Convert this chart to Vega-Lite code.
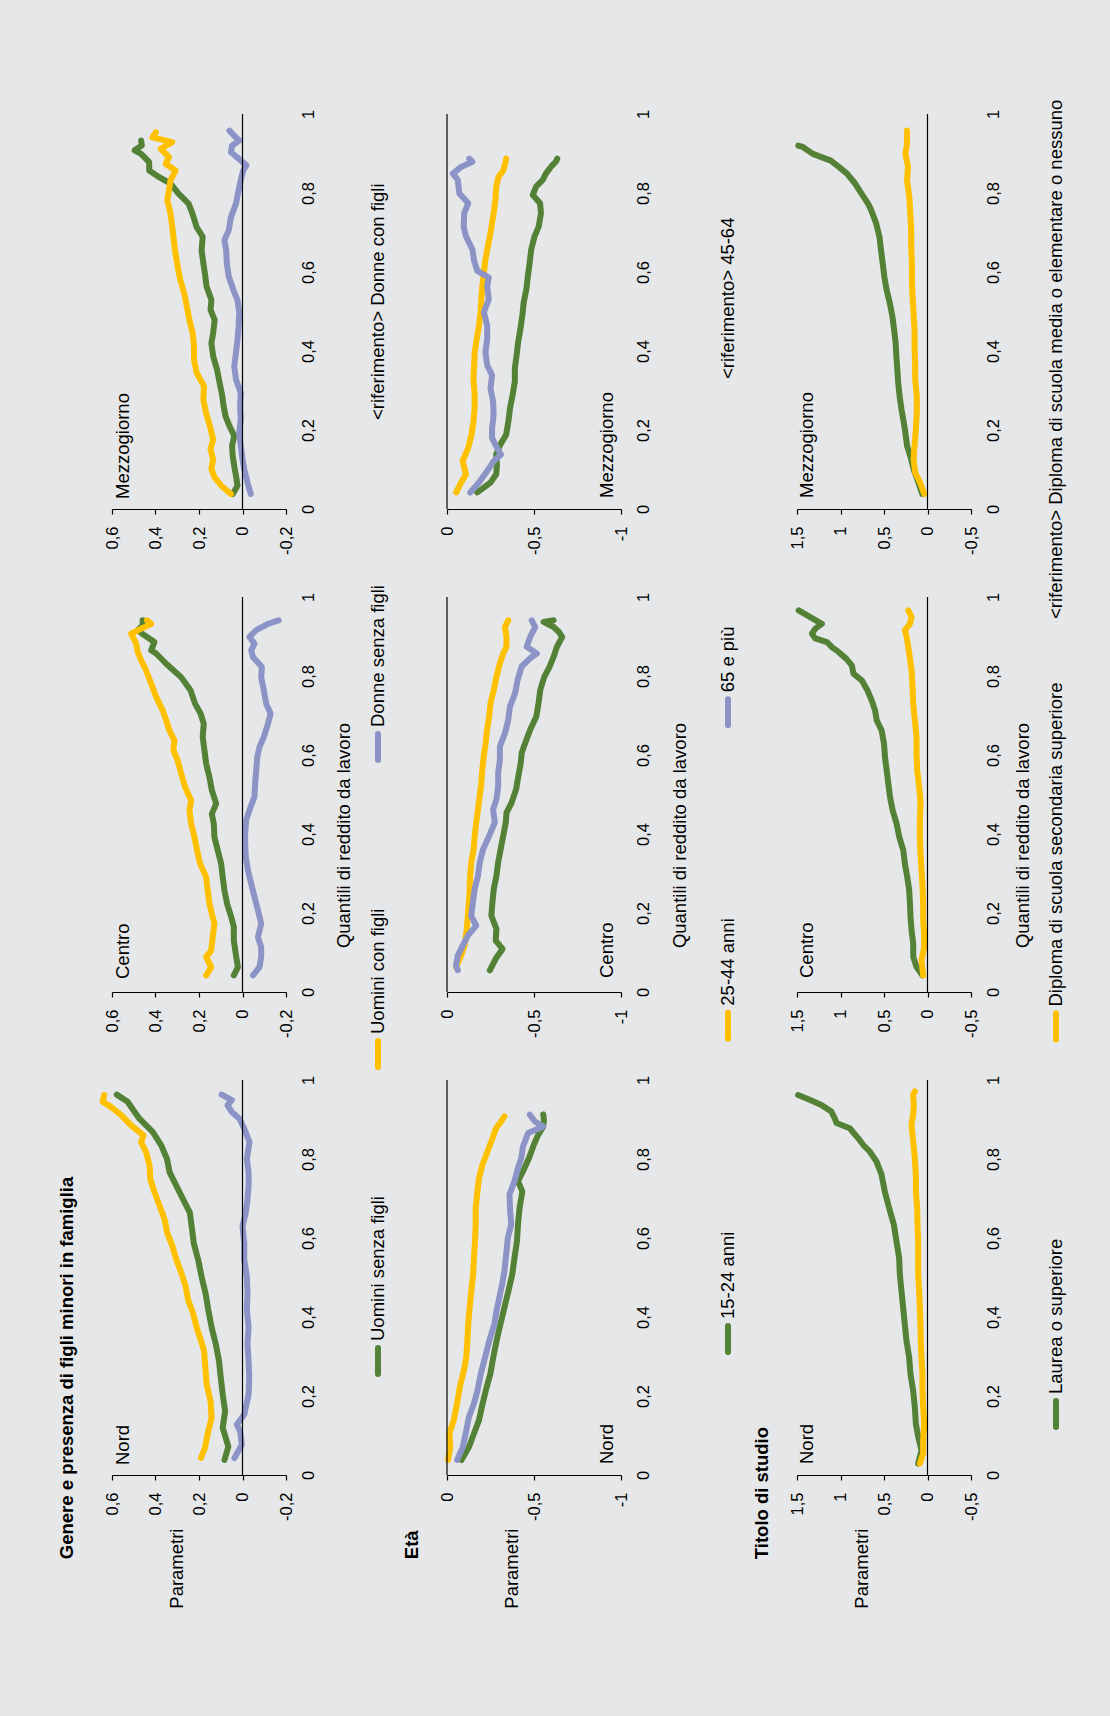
{
"$schema": "https://vega.github.io/schema/vega-lite/v6.json",
"background": "#e6e7e8",
"padding": {"left": 58, "top": 99, "right": 51, "bottom": 156},
"config": {
 "font": "Liberation Sans",
 "view": {"stroke": null},
 "locale": {"number": {"decimal": ",", "thousands": ".", "grouping": [3], "currency": ["", " €"], "minus": "-"}},
 "axis": {"grid": false, "domainColor": "#000000", "tickColor": "#000000", "labelColor": "#000000", "titleColor": "#000000", "labelFont": "Liberation Sans", "titleFont": "Liberation Sans", "labelFontSize": 16.5, "titleFontSize": 18.5, "titleFontWeight": "normal", "labelOverlap": false, "labelFlush": false, "domainWidth": 1.2, "tickWidth": 1.2},
 "title": {"font": "Liberation Sans", "fontSize": 18.5, "fontWeight": "bold", "color": "#000000"},
 "text": {"font": "Liberation Sans", "color": "#000000"}
},
"datasets": {
"g1": [
{"r":"Nord","s":"Uomini senza figli","q":0.038,"p":0.083},{"r":"Nord","s":"Uomini senza figli","q":0.072,"p":0.065},{"r":"Nord","s":"Uomini senza figli","q":0.119,"p":0.091},{"r":"Nord","s":"Uomini senza figli","q":0.162,"p":0.08},{"r":"Nord","s":"Uomini senza figli","q":0.204,"p":0.091},{"r":"Nord","s":"Uomini senza figli","q":0.247,"p":0.1},{"r":"Nord","s":"Uomini senza figli","q":0.289,"p":0.108},{"r":"Nord","s":"Uomini senza figli","q":0.332,"p":0.123},{"r":"Nord","s":"Uomini senza figli","q":0.374,"p":0.142},{"r":"Nord","s":"Uomini senza figli","q":0.417,"p":0.157},{"r":"Nord","s":"Uomini senza figli","q":0.46,"p":0.17},{"r":"Nord","s":"Uomini senza figli","q":0.502,"p":0.188},{"r":"Nord","s":"Uomini senza figli","q":0.545,"p":0.204},{"r":"Nord","s":"Uomini senza figli","q":0.587,"p":0.224},{"r":"Nord","s":"Uomini senza figli","q":0.63,"p":0.234},{"r":"Nord","s":"Uomini senza figli","q":0.664,"p":0.242},{"r":"Nord","s":"Uomini senza figli","q":0.698,"p":0.273},{"r":"Nord","s":"Uomini senza figli","q":0.732,"p":0.304},{"r":"Nord","s":"Uomini senza figli","q":0.766,"p":0.335},{"r":"Nord","s":"Uomini senza figli","q":0.8,"p":0.347},{"r":"Nord","s":"Uomini senza figli","q":0.834,"p":0.373},{"r":"Nord","s":"Uomini senza figli","q":0.868,"p":0.412},{"r":"Nord","s":"Uomini senza figli","q":0.902,"p":0.474},{"r":"Nord","s":"Uomini senza figli","q":0.928,"p":0.507},{"r":"Nord","s":"Uomini senza figli","q":0.945,"p":0.528},{"r":"Nord","s":"Uomini senza figli","q":0.963,"p":0.578},
{"r":"Nord","s":"Uomini con figli","q":0.043,"p":0.191},{"r":"Nord","s":"Uomini con figli","q":0.068,"p":0.173},{"r":"Nord","s":"Uomini con figli","q":0.111,"p":0.157},{"r":"Nord","s":"Uomini con figli","q":0.145,"p":0.142},{"r":"Nord","s":"Uomini con figli","q":0.187,"p":0.147},{"r":"Nord","s":"Uomini con figli","q":0.23,"p":0.165},{"r":"Nord","s":"Uomini con figli","q":0.272,"p":0.171},{"r":"Nord","s":"Uomini con figli","q":0.315,"p":0.177},{"r":"Nord","s":"Uomini con figli","q":0.34,"p":0.191},{"r":"Nord","s":"Uomini con figli","q":0.374,"p":0.211},{"r":"Nord","s":"Uomini con figli","q":0.409,"p":0.227},{"r":"Nord","s":"Uomini con figli","q":0.443,"p":0.25},{"r":"Nord","s":"Uomini con figli","q":0.477,"p":0.261},{"r":"Nord","s":"Uomini con figli","q":0.511,"p":0.281},{"r":"Nord","s":"Uomini con figli","q":0.545,"p":0.304},{"r":"Nord","s":"Uomini con figli","q":0.579,"p":0.322},{"r":"Nord","s":"Uomini con figli","q":0.613,"p":0.346},{"r":"Nord","s":"Uomini con figli","q":0.647,"p":0.358},{"r":"Nord","s":"Uomini con figli","q":0.681,"p":0.381},{"r":"Nord","s":"Uomini con figli","q":0.715,"p":0.404},{"r":"Nord","s":"Uomini con figli","q":0.749,"p":0.424},{"r":"Nord","s":"Uomini con figli","q":0.783,"p":0.427},{"r":"Nord","s":"Uomini con figli","q":0.817,"p":0.443},{"r":"Nord","s":"Uomini con figli","q":0.843,"p":0.466},{"r":"Nord","s":"Uomini con figli","q":0.86,"p":0.455},{"r":"Nord","s":"Uomini con figli","q":0.885,"p":0.512},{"r":"Nord","s":"Uomini con figli","q":0.911,"p":0.558},{"r":"Nord","s":"Uomini con figli","q":0.932,"p":0.605},{"r":"Nord","s":"Uomini con figli","q":0.945,"p":0.643},{"r":"Nord","s":"Uomini con figli","q":0.962,"p":0.636},
{"r":"Nord","s":"Donne senza figli","q":0.043,"p":0.037},{"r":"Nord","s":"Donne senza figli","q":0.077,"p":0.003},{"r":"Nord","s":"Donne senza figli","q":0.111,"p":0.011},{"r":"Nord","s":"Donne senza figli","q":0.128,"p":0.026},{"r":"Nord","s":"Donne senza figli","q":0.153,"p":-0.008},{"r":"Nord","s":"Donne senza figli","q":0.204,"p":-0.028},{"r":"Nord","s":"Donne senza figli","q":0.247,"p":-0.031},{"r":"Nord","s":"Donne senza figli","q":0.289,"p":-0.028},{"r":"Nord","s":"Donne senza figli","q":0.332,"p":-0.023},{"r":"Nord","s":"Donne senza figli","q":0.374,"p":-0.028},{"r":"Nord","s":"Donne senza figli","q":0.417,"p":-0.02},{"r":"Nord","s":"Donne senza figli","q":0.46,"p":-0.023},{"r":"Nord","s":"Donne senza figli","q":0.502,"p":-0.02},{"r":"Nord","s":"Donne senza figli","q":0.545,"p":-0.008},{"r":"Nord","s":"Donne senza figli","q":0.587,"p":-0.008},{"r":"Nord","s":"Donne senza figli","q":0.63,"p":0},{"r":"Nord","s":"Donne senza figli","q":0.664,"p":-0.015},{"r":"Nord","s":"Donne senza figli","q":0.698,"p":-0.023},{"r":"Nord","s":"Donne senza figli","q":0.732,"p":-0.028},{"r":"Nord","s":"Donne senza figli","q":0.766,"p":-0.028},{"r":"Nord","s":"Donne senza figli","q":0.8,"p":-0.02},{"r":"Nord","s":"Donne senza figli","q":0.843,"p":-0.032},{"r":"Nord","s":"Donne senza figli","q":0.877,"p":-0.008},{"r":"Nord","s":"Donne senza figli","q":0.902,"p":0.014},{"r":"Nord","s":"Donne senza figli","q":0.919,"p":0.049},{"r":"Nord","s":"Donne senza figli","q":0.936,"p":0.069},{"r":"Nord","s":"Donne senza figli","q":0.949,"p":0.049},{"r":"Nord","s":"Donne senza figli","q":0.963,"p":0.096},
{"r":"Centro","s":"Uomini senza figli","q":0.042,"p":0.04},{"r":"Centro","s":"Uomini senza figli","q":0.063,"p":0.021},{"r":"Centro","s":"Uomini senza figli","q":0.089,"p":0.029},{"r":"Centro","s":"Uomini senza figli","q":0.131,"p":0.04},{"r":"Centro","s":"Uomini senza figli","q":0.165,"p":0.04},{"r":"Centro","s":"Uomini senza figli","q":0.19,"p":0.052},{"r":"Centro","s":"Uomini senza figli","q":0.224,"p":0.071},{"r":"Centro","s":"Uomini senza figli","q":0.257,"p":0.083},{"r":"Centro","s":"Uomini senza figli","q":0.291,"p":0.091},{"r":"Centro","s":"Uomini senza figli","q":0.325,"p":0.098},{"r":"Centro","s":"Uomini senza figli","q":0.359,"p":0.114},{"r":"Centro","s":"Uomini senza figli","q":0.392,"p":0.129},{"r":"Centro","s":"Uomini senza figli","q":0.426,"p":0.132},{"r":"Centro","s":"Uomini senza figli","q":0.451,"p":0.141},{"r":"Centro","s":"Uomini senza figli","q":0.477,"p":0.121},{"r":"Centro","s":"Uomini senza figli","q":0.511,"p":0.141},{"r":"Centro","s":"Uomini senza figli","q":0.544,"p":0.152},{"r":"Centro","s":"Uomini senza figli","q":0.578,"p":0.167},{"r":"Centro","s":"Uomini senza figli","q":0.612,"p":0.175},{"r":"Centro","s":"Uomini senza figli","q":0.646,"p":0.183},{"r":"Centro","s":"Uomini senza figli","q":0.679,"p":0.178},{"r":"Centro","s":"Uomini senza figli","q":0.705,"p":0.193},{"r":"Centro","s":"Uomini senza figli","q":0.73,"p":0.218},{"r":"Centro","s":"Uomini senza figli","q":0.764,"p":0.239},{"r":"Centro","s":"Uomini senza figli","q":0.797,"p":0.282},{"r":"Centro","s":"Uomini senza figli","q":0.831,"p":0.351},{"r":"Centro","s":"Uomini senza figli","q":0.857,"p":0.397},{"r":"Centro","s":"Uomini senza figli","q":0.865,"p":0.42},{"r":"Centro","s":"Uomini senza figli","q":0.886,"p":0.405},{"r":"Centro","s":"Uomini senza figli","q":0.903,"p":0.451},{"r":"Centro","s":"Uomini senza figli","q":0.916,"p":0.482},{"r":"Centro","s":"Uomini senza figli","q":0.928,"p":0.459},{"r":"Centro","s":"Uomini senza figli","q":0.941,"p":0.459},
{"r":"Centro","s":"Uomini con figli","q":0.042,"p":0.167},{"r":"Centro","s":"Uomini con figli","q":0.063,"p":0.144},{"r":"Centro","s":"Uomini con figli","q":0.089,"p":0.167},{"r":"Centro","s":"Uomini con figli","q":0.105,"p":0.144},{"r":"Centro","s":"Uomini con figli","q":0.139,"p":0.137},{"r":"Centro","s":"Uomini con figli","q":0.173,"p":0.129},{"r":"Centro","s":"Uomini con figli","q":0.198,"p":0.141},{"r":"Centro","s":"Uomini con figli","q":0.224,"p":0.152},{"r":"Centro","s":"Uomini con figli","q":0.257,"p":0.16},{"r":"Centro","s":"Uomini con figli","q":0.291,"p":0.167},{"r":"Centro","s":"Uomini con figli","q":0.325,"p":0.195},{"r":"Centro","s":"Uomini con figli","q":0.359,"p":0.209},{"r":"Centro","s":"Uomini con figli","q":0.392,"p":0.221},{"r":"Centro","s":"Uomini con figli","q":0.426,"p":0.236},{"r":"Centro","s":"Uomini con figli","q":0.46,"p":0.244},{"r":"Centro","s":"Uomini con figli","q":0.485,"p":0.236},{"r":"Centro","s":"Uomini con figli","q":0.519,"p":0.264},{"r":"Centro","s":"Uomini con figli","q":0.553,"p":0.282},{"r":"Centro","s":"Uomini con figli","q":0.586,"p":0.298},{"r":"Centro","s":"Uomini con figli","q":0.612,"p":0.318},{"r":"Centro","s":"Uomini con figli","q":0.637,"p":0.313},{"r":"Centro","s":"Uomini con figli","q":0.662,"p":0.336},{"r":"Centro","s":"Uomini con figli","q":0.688,"p":0.351},{"r":"Centro","s":"Uomini con figli","q":0.713,"p":0.367},{"r":"Centro","s":"Uomini con figli","q":0.747,"p":0.397},{"r":"Centro","s":"Uomini con figli","q":0.781,"p":0.42},{"r":"Centro","s":"Uomini con figli","q":0.814,"p":0.443},{"r":"Centro","s":"Uomini con figli","q":0.84,"p":0.466},{"r":"Centro","s":"Uomini con figli","q":0.861,"p":0.482},{"r":"Centro","s":"Uomini con figli","q":0.882,"p":0.489},{"r":"Centro","s":"Uomini con figli","q":0.907,"p":0.512},{"r":"Centro","s":"Uomini con figli","q":0.92,"p":0.466},{"r":"Centro","s":"Uomini con figli","q":0.932,"p":0.42},{"r":"Centro","s":"Uomini con figli","q":0.941,"p":0.439},
{"r":"Centro","s":"Donne senza figli","q":0.042,"p":-0.048},{"r":"Centro","s":"Donne senza figli","q":0.063,"p":-0.078},{"r":"Centro","s":"Donne senza figli","q":0.089,"p":-0.086},{"r":"Centro","s":"Donne senza figli","q":0.114,"p":-0.086},{"r":"Centro","s":"Donne senza figli","q":0.139,"p":-0.071},{"r":"Centro","s":"Donne senza figli","q":0.173,"p":-0.086},{"r":"Centro","s":"Donne senza figli","q":0.207,"p":-0.071},{"r":"Centro","s":"Donne senza figli","q":0.241,"p":-0.055},{"r":"Centro","s":"Donne senza figli","q":0.274,"p":-0.04},{"r":"Centro","s":"Donne senza figli","q":0.308,"p":-0.025},{"r":"Centro","s":"Donne senza figli","q":0.342,"p":-0.015},{"r":"Centro","s":"Donne senza figli","q":0.376,"p":-0.012},{"r":"Centro","s":"Donne senza figli","q":0.401,"p":-0.012},{"r":"Centro","s":"Donne senza figli","q":0.435,"p":-0.017},{"r":"Centro","s":"Donne senza figli","q":0.468,"p":-0.037},{"r":"Centro","s":"Donne senza figli","q":0.494,"p":-0.055},{"r":"Centro","s":"Donne senza figli","q":0.527,"p":-0.058},{"r":"Centro","s":"Donne senza figli","q":0.561,"p":-0.063},{"r":"Centro","s":"Donne senza figli","q":0.595,"p":-0.068},{"r":"Centro","s":"Donne senza figli","q":0.62,"p":-0.078},{"r":"Centro","s":"Donne senza figli","q":0.646,"p":-0.098},{"r":"Centro","s":"Donne senza figli","q":0.679,"p":-0.117},{"r":"Centro","s":"Donne senza figli","q":0.705,"p":-0.129},{"r":"Centro","s":"Donne senza figli","q":0.73,"p":-0.109},{"r":"Centro","s":"Donne senza figli","q":0.764,"p":-0.098},{"r":"Centro","s":"Donne senza figli","q":0.797,"p":-0.086},{"r":"Centro","s":"Donne senza figli","q":0.823,"p":-0.089},{"r":"Centro","s":"Donne senza figli","q":0.848,"p":-0.048},{"r":"Centro","s":"Donne senza figli","q":0.865,"p":-0.04},{"r":"Centro","s":"Donne senza figli","q":0.882,"p":-0.055},{"r":"Centro","s":"Donne senza figli","q":0.899,"p":-0.032},{"r":"Centro","s":"Donne senza figli","q":0.916,"p":-0.063},{"r":"Centro","s":"Donne senza figli","q":0.932,"p":-0.117},{"r":"Centro","s":"Donne senza figli","q":0.941,"p":-0.166},
{"r":"Mezzogiorno","s":"Uomini senza figli","q":0.038,"p":0.045},{"r":"Mezzogiorno","s":"Uomini senza figli","q":0.059,"p":0.023},{"r":"Mezzogiorno","s":"Uomini senza figli","q":0.084,"p":0.03},{"r":"Mezzogiorno","s":"Uomini senza figli","q":0.109,"p":0.038},{"r":"Mezzogiorno","s":"Uomini senza figli","q":0.134,"p":0.045},{"r":"Mezzogiorno","s":"Uomini senza figli","q":0.16,"p":0.048},{"r":"Mezzogiorno","s":"Uomini senza figli","q":0.185,"p":0.038},{"r":"Mezzogiorno","s":"Uomini senza figli","q":0.21,"p":0.06},{"r":"Mezzogiorno","s":"Uomini senza figli","q":0.235,"p":0.078},{"r":"Mezzogiorno","s":"Uomini senza figli","q":0.261,"p":0.087},{"r":"Mezzogiorno","s":"Uomini senza figli","q":0.286,"p":0.093},{"r":"Mezzogiorno","s":"Uomini senza figli","q":0.319,"p":0.105},{"r":"Mezzogiorno","s":"Uomini senza figli","q":0.353,"p":0.117},{"r":"Mezzogiorno","s":"Uomini senza figli","q":0.387,"p":0.135},{"r":"Mezzogiorno","s":"Uomini senza figli","q":0.42,"p":0.143},{"r":"Mezzogiorno","s":"Uomini senza figli","q":0.445,"p":0.135},{"r":"Mezzogiorno","s":"Uomini senza figli","q":0.479,"p":0.128},{"r":"Mezzogiorno","s":"Uomini senza figli","q":0.504,"p":0.147},{"r":"Mezzogiorno","s":"Uomini senza figli","q":0.529,"p":0.143},{"r":"Mezzogiorno","s":"Uomini senza figli","q":0.563,"p":0.165},{"r":"Mezzogiorno","s":"Uomini senza figli","q":0.597,"p":0.173},{"r":"Mezzogiorno","s":"Uomini senza figli","q":0.622,"p":0.18},{"r":"Mezzogiorno","s":"Uomini senza figli","q":0.655,"p":0.188},{"r":"Mezzogiorno","s":"Uomini senza figli","q":0.689,"p":0.183},{"r":"Mezzogiorno","s":"Uomini senza figli","q":0.714,"p":0.211},{"r":"Mezzogiorno","s":"Uomini senza figli","q":0.748,"p":0.23},{"r":"Mezzogiorno","s":"Uomini senza figli","q":0.773,"p":0.248},{"r":"Mezzogiorno","s":"Uomini senza figli","q":0.798,"p":0.293},{"r":"Mezzogiorno","s":"Uomini senza figli","q":0.824,"p":0.331},{"r":"Mezzogiorno","s":"Uomini senza figli","q":0.84,"p":0.383},{"r":"Mezzogiorno","s":"Uomini senza figli","q":0.857,"p":0.429},{"r":"Mezzogiorno","s":"Uomini senza figli","q":0.878,"p":0.429},{"r":"Mezzogiorno","s":"Uomini senza figli","q":0.899,"p":0.466},{"r":"Mezzogiorno","s":"Uomini senza figli","q":0.908,"p":0.496},{"r":"Mezzogiorno","s":"Uomini senza figli","q":0.92,"p":0.463},{"r":"Mezzogiorno","s":"Uomini senza figli","q":0.933,"p":0.466},
{"r":"Mezzogiorno","s":"Uomini con figli","q":0.038,"p":0.053},{"r":"Mezzogiorno","s":"Uomini con figli","q":0.059,"p":0.098},{"r":"Mezzogiorno","s":"Uomini con figli","q":0.08,"p":0.128},{"r":"Mezzogiorno","s":"Uomini con figli","q":0.101,"p":0.143},{"r":"Mezzogiorno","s":"Uomini con figli","q":0.126,"p":0.135},{"r":"Mezzogiorno","s":"Uomini con figli","q":0.151,"p":0.147},{"r":"Mezzogiorno","s":"Uomini con figli","q":0.176,"p":0.135},{"r":"Mezzogiorno","s":"Uomini con figli","q":0.21,"p":0.15},{"r":"Mezzogiorno","s":"Uomini con figli","q":0.244,"p":0.168},{"r":"Mezzogiorno","s":"Uomini con figli","q":0.277,"p":0.18},{"r":"Mezzogiorno","s":"Uomini con figli","q":0.311,"p":0.177},{"r":"Mezzogiorno","s":"Uomini con figli","q":0.345,"p":0.211},{"r":"Mezzogiorno","s":"Uomini con figli","q":0.378,"p":0.223},{"r":"Mezzogiorno","s":"Uomini con figli","q":0.412,"p":0.223},{"r":"Mezzogiorno","s":"Uomini con figli","q":0.445,"p":0.229},{"r":"Mezzogiorno","s":"Uomini con figli","q":0.479,"p":0.244},{"r":"Mezzogiorno","s":"Uomini con figli","q":0.513,"p":0.256},{"r":"Mezzogiorno","s":"Uomini con figli","q":0.546,"p":0.268},{"r":"Mezzogiorno","s":"Uomini con figli","q":0.58,"p":0.286},{"r":"Mezzogiorno","s":"Uomini con figli","q":0.613,"p":0.298},{"r":"Mezzogiorno","s":"Uomini con figli","q":0.647,"p":0.308},{"r":"Mezzogiorno","s":"Uomini con figli","q":0.681,"p":0.316},{"r":"Mezzogiorno","s":"Uomini con figli","q":0.714,"p":0.323},{"r":"Mezzogiorno","s":"Uomini con figli","q":0.748,"p":0.331},{"r":"Mezzogiorno","s":"Uomini con figli","q":0.782,"p":0.346},{"r":"Mezzogiorno","s":"Uomini con figli","q":0.807,"p":0.338},{"r":"Mezzogiorno","s":"Uomini con figli","q":0.832,"p":0.331},{"r":"Mezzogiorno","s":"Uomini con figli","q":0.857,"p":0.308},{"r":"Mezzogiorno","s":"Uomini con figli","q":0.874,"p":0.353},{"r":"Mezzogiorno","s":"Uomini con figli","q":0.891,"p":0.338},{"r":"Mezzogiorno","s":"Uomini con figli","q":0.912,"p":0.376},{"r":"Mezzogiorno","s":"Uomini con figli","q":0.929,"p":0.323},{"r":"Mezzogiorno","s":"Uomini con figli","q":0.941,"p":0.414},{"r":"Mezzogiorno","s":"Uomini con figli","q":0.954,"p":0.398},
{"r":"Mezzogiorno","s":"Donne senza figli","q":0.038,"p":-0.038},{"r":"Mezzogiorno","s":"Donne senza figli","q":0.067,"p":-0.023},{"r":"Mezzogiorno","s":"Donne senza figli","q":0.101,"p":-0.008},{"r":"Mezzogiorno","s":"Donne senza figli","q":0.126,"p":0},{"r":"Mezzogiorno","s":"Donne senza figli","q":0.16,"p":0.008},{"r":"Mezzogiorno","s":"Donne senza figli","q":0.193,"p":0.015},{"r":"Mezzogiorno","s":"Donne senza figli","q":0.227,"p":0.008},{"r":"Mezzogiorno","s":"Donne senza figli","q":0.261,"p":0.011},{"r":"Mezzogiorno","s":"Donne senza figli","q":0.294,"p":0.008},{"r":"Mezzogiorno","s":"Donne senza figli","q":0.328,"p":0.03},{"r":"Mezzogiorno","s":"Donne senza figli","q":0.361,"p":0.038},{"r":"Mezzogiorno","s":"Donne senza figli","q":0.395,"p":0.03},{"r":"Mezzogiorno","s":"Donne senza figli","q":0.429,"p":0.023},{"r":"Mezzogiorno","s":"Donne senza figli","q":0.462,"p":0.018},{"r":"Mezzogiorno","s":"Donne senza figli","q":0.496,"p":0.015},{"r":"Mezzogiorno","s":"Donne senza figli","q":0.529,"p":0.023},{"r":"Mezzogiorno","s":"Donne senza figli","q":0.555,"p":0.042},{"r":"Mezzogiorno","s":"Donne senza figli","q":0.588,"p":0.063},{"r":"Mezzogiorno","s":"Donne senza figli","q":0.622,"p":0.072},{"r":"Mezzogiorno","s":"Donne senza figli","q":0.655,"p":0.075},{"r":"Mezzogiorno","s":"Donne senza figli","q":0.681,"p":0.083},{"r":"Mezzogiorno","s":"Donne senza figli","q":0.706,"p":0.063},{"r":"Mezzogiorno","s":"Donne senza figli","q":0.739,"p":0.053},{"r":"Mezzogiorno","s":"Donne senza figli","q":0.773,"p":0.03},{"r":"Mezzogiorno","s":"Donne senza figli","q":0.807,"p":0.018},{"r":"Mezzogiorno","s":"Donne senza figli","q":0.832,"p":0.008},{"r":"Mezzogiorno","s":"Donne senza figli","q":0.857,"p":-0.003},{"r":"Mezzogiorno","s":"Donne senza figli","q":0.87,"p":-0.018},{"r":"Mezzogiorno","s":"Donne senza figli","q":0.887,"p":0.018},{"r":"Mezzogiorno","s":"Donne senza figli","q":0.903,"p":0.053},{"r":"Mezzogiorno","s":"Donne senza figli","q":0.92,"p":0.048},{"r":"Mezzogiorno","s":"Donne senza figli","q":0.933,"p":0.015},{"r":"Mezzogiorno","s":"Donne senza figli","q":0.945,"p":0.038},{"r":"Mezzogiorno","s":"Donne senza figli","q":0.958,"p":0.06}
],
"g2": [
{"r":"Nord","s":"15-24 anni","q":0.038,"p":-0.083},{"r":"Nord","s":"15-24 anni","q":0.071,"p":-0.126},{"r":"Nord","s":"15-24 anni","q":0.105,"p":-0.155},{"r":"Nord","s":"15-24 anni","q":0.139,"p":-0.184},{"r":"Nord","s":"15-24 anni","q":0.172,"p":-0.2},{"r":"Nord","s":"15-24 anni","q":0.214,"p":-0.223},{"r":"Nord","s":"15-24 anni","q":0.256,"p":-0.249},{"r":"Nord","s":"15-24 anni","q":0.298,"p":-0.266},{"r":"Nord","s":"15-24 anni","q":0.34,"p":-0.285},{"r":"Nord","s":"15-24 anni","q":0.382,"p":-0.307},{"r":"Nord","s":"15-24 anni","q":0.424,"p":-0.33},{"r":"Nord","s":"15-24 anni","q":0.466,"p":-0.353},{"r":"Nord","s":"15-24 anni","q":0.508,"p":-0.375},{"r":"Nord","s":"15-24 anni","q":0.55,"p":-0.388},{"r":"Nord","s":"15-24 anni","q":0.592,"p":-0.402},{"r":"Nord","s":"15-24 anni","q":0.634,"p":-0.408},{"r":"Nord","s":"15-24 anni","q":0.676,"p":-0.417},{"r":"Nord","s":"15-24 anni","q":0.718,"p":-0.433},{"r":"Nord","s":"15-24 anni","q":0.744,"p":-0.408},{"r":"Nord","s":"15-24 anni","q":0.769,"p":-0.437},{"r":"Nord","s":"15-24 anni","q":0.803,"p":-0.472},{"r":"Nord","s":"15-24 anni","q":0.836,"p":-0.499},{"r":"Nord","s":"15-24 anni","q":0.861,"p":-0.524},{"r":"Nord","s":"15-24 anni","q":0.882,"p":-0.553},{"r":"Nord","s":"15-24 anni","q":0.899,"p":-0.557},{"r":"Nord","s":"15-24 anni","q":0.913,"p":-0.553},
{"r":"Nord","s":"25-44 anni","q":0.038,"p":-0.006},{"r":"Nord","s":"25-44 anni","q":0.071,"p":-0.019},{"r":"Nord","s":"25-44 anni","q":0.105,"p":-0.014},{"r":"Nord","s":"25-44 anni","q":0.139,"p":-0.039},{"r":"Nord","s":"25-44 anni","q":0.181,"p":-0.058},{"r":"Nord","s":"25-44 anni","q":0.223,"p":-0.074},{"r":"Nord","s":"25-44 anni","q":0.265,"p":-0.097},{"r":"Nord","s":"25-44 anni","q":0.298,"p":-0.111},{"r":"Nord","s":"25-44 anni","q":0.34,"p":-0.117},{"r":"Nord","s":"25-44 anni","q":0.382,"p":-0.122},{"r":"Nord","s":"25-44 anni","q":0.424,"p":-0.13},{"r":"Nord","s":"25-44 anni","q":0.466,"p":-0.14},{"r":"Nord","s":"25-44 anni","q":0.508,"p":-0.15},{"r":"Nord","s":"25-44 anni","q":0.55,"p":-0.155},{"r":"Nord","s":"25-44 anni","q":0.592,"p":-0.161},{"r":"Nord","s":"25-44 anni","q":0.634,"p":-0.165},{"r":"Nord","s":"25-44 anni","q":0.676,"p":-0.165},{"r":"Nord","s":"25-44 anni","q":0.718,"p":-0.175},{"r":"Nord","s":"25-44 anni","q":0.752,"p":-0.184},{"r":"Nord","s":"25-44 anni","q":0.786,"p":-0.204},{"r":"Nord","s":"25-44 anni","q":0.819,"p":-0.233},{"r":"Nord","s":"25-44 anni","q":0.853,"p":-0.262},{"r":"Nord","s":"25-44 anni","q":0.878,"p":-0.282},{"r":"Nord","s":"25-44 anni","q":0.895,"p":-0.311},{"r":"Nord","s":"25-44 anni","q":0.908,"p":-0.33},
{"r":"Nord","s":"65 e più","q":0.038,"p":-0.058},{"r":"Nord","s":"65 e più","q":0.071,"p":-0.091},{"r":"Nord","s":"65 e più","q":0.113,"p":-0.111},{"r":"Nord","s":"65 e più","q":0.147,"p":-0.126},{"r":"Nord","s":"65 e più","q":0.181,"p":-0.155},{"r":"Nord","s":"65 e più","q":0.214,"p":-0.175},{"r":"Nord","s":"65 e più","q":0.256,"p":-0.194},{"r":"Nord","s":"65 e più","q":0.298,"p":-0.219},{"r":"Nord","s":"65 e più","q":0.34,"p":-0.243},{"r":"Nord","s":"65 e più","q":0.382,"p":-0.272},{"r":"Nord","s":"65 e più","q":0.416,"p":-0.285},{"r":"Nord","s":"65 e più","q":0.45,"p":-0.301},{"r":"Nord","s":"65 e più","q":0.483,"p":-0.317},{"r":"Nord","s":"65 e più","q":0.517,"p":-0.33},{"r":"Nord","s":"65 e più","q":0.559,"p":-0.34},{"r":"Nord","s":"65 e più","q":0.601,"p":-0.35},{"r":"Nord","s":"65 e più","q":0.634,"p":-0.369},{"r":"Nord","s":"65 e più","q":0.668,"p":-0.363},{"r":"Nord","s":"65 e più","q":0.71,"p":-0.359},{"r":"Nord","s":"65 e più","q":0.744,"p":-0.388},{"r":"Nord","s":"65 e più","q":0.777,"p":-0.408},{"r":"Nord","s":"65 e più","q":0.803,"p":-0.427},{"r":"Nord","s":"65 e più","q":0.832,"p":-0.437},{"r":"Nord","s":"65 e più","q":0.849,"p":-0.452},{"r":"Nord","s":"65 e più","q":0.866,"p":-0.466},{"r":"Nord","s":"65 e più","q":0.882,"p":-0.553},{"r":"Nord","s":"65 e più","q":0.895,"p":-0.505},{"r":"Nord","s":"65 e più","q":0.912,"p":-0.476},
{"r":"Centro","s":"15-24 anni","q":0.055,"p":-0.246},{"r":"Centro","s":"15-24 anni","q":0.084,"p":-0.28},{"r":"Centro","s":"15-24 anni","q":0.109,"p":-0.319},{"r":"Centro","s":"15-24 anni","q":0.13,"p":-0.28},{"r":"Centro","s":"15-24 anni","q":0.16,"p":-0.284},{"r":"Centro","s":"15-24 anni","q":0.193,"p":-0.255},{"r":"Centro","s":"15-24 anni","q":0.227,"p":-0.261},{"r":"Centro","s":"15-24 anni","q":0.261,"p":-0.269},{"r":"Centro","s":"15-24 anni","q":0.294,"p":-0.284},{"r":"Centro","s":"15-24 anni","q":0.328,"p":-0.294},{"r":"Centro","s":"15-24 anni","q":0.361,"p":-0.308},{"r":"Centro","s":"15-24 anni","q":0.395,"p":-0.323},{"r":"Centro","s":"15-24 anni","q":0.429,"p":-0.338},{"r":"Centro","s":"15-24 anni","q":0.454,"p":-0.342},{"r":"Centro","s":"15-24 anni","q":0.479,"p":-0.371},{"r":"Centro","s":"15-24 anni","q":0.513,"p":-0.397},{"r":"Centro","s":"15-24 anni","q":0.546,"p":-0.41},{"r":"Centro","s":"15-24 anni","q":0.58,"p":-0.424},{"r":"Centro","s":"15-24 anni","q":0.605,"p":-0.429},{"r":"Centro","s":"15-24 anni","q":0.63,"p":-0.449},{"r":"Centro","s":"15-24 anni","q":0.664,"p":-0.478},{"r":"Centro","s":"15-24 anni","q":0.697,"p":-0.513},{"r":"Centro","s":"15-24 anni","q":0.731,"p":-0.526},{"r":"Centro","s":"15-24 anni","q":0.765,"p":-0.536},{"r":"Centro","s":"15-24 anni","q":0.798,"p":-0.559},{"r":"Centro","s":"15-24 anni","q":0.824,"p":-0.59},{"r":"Centro","s":"15-24 anni","q":0.849,"p":-0.613},{"r":"Centro","s":"15-24 anni","q":0.874,"p":-0.632},{"r":"Centro","s":"15-24 anni","q":0.899,"p":-0.662},{"r":"Centro","s":"15-24 anni","q":0.912,"p":-0.642},{"r":"Centro","s":"15-24 anni","q":0.924,"p":-0.613},{"r":"Centro","s":"15-24 anni","q":0.937,"p":-0.555},{"r":"Centro","s":"15-24 anni","q":0.941,"p":-0.613},
{"r":"Centro","s":"25-44 anni","q":0.063,"p":-0.052},{"r":"Centro","s":"25-44 anni","q":0.092,"p":-0.081},{"r":"Centro","s":"25-44 anni","q":0.118,"p":-0.101},{"r":"Centro","s":"25-44 anni","q":0.16,"p":-0.114},{"r":"Centro","s":"25-44 anni","q":0.193,"p":-0.12},{"r":"Centro","s":"25-44 anni","q":0.227,"p":-0.126},{"r":"Centro","s":"25-44 anni","q":0.261,"p":-0.13},{"r":"Centro","s":"25-44 anni","q":0.294,"p":-0.133},{"r":"Centro","s":"25-44 anni","q":0.328,"p":-0.139},{"r":"Centro","s":"25-44 anni","q":0.361,"p":-0.153},{"r":"Centro","s":"25-44 anni","q":0.395,"p":-0.159},{"r":"Centro","s":"25-44 anni","q":0.429,"p":-0.168},{"r":"Centro","s":"25-44 anni","q":0.462,"p":-0.178},{"r":"Centro","s":"25-44 anni","q":0.496,"p":-0.188},{"r":"Centro","s":"25-44 anni","q":0.529,"p":-0.197},{"r":"Centro","s":"25-44 anni","q":0.563,"p":-0.203},{"r":"Centro","s":"25-44 anni","q":0.597,"p":-0.211},{"r":"Centro","s":"25-44 anni","q":0.63,"p":-0.222},{"r":"Centro","s":"25-44 anni","q":0.664,"p":-0.23},{"r":"Centro","s":"25-44 anni","q":0.697,"p":-0.242},{"r":"Centro","s":"25-44 anni","q":0.731,"p":-0.25},{"r":"Centro","s":"25-44 anni","q":0.765,"p":-0.269},{"r":"Centro","s":"25-44 anni","q":0.798,"p":-0.284},{"r":"Centro","s":"25-44 anni","q":0.832,"p":-0.304},{"r":"Centro","s":"25-44 anni","q":0.857,"p":-0.323},{"r":"Centro","s":"25-44 anni","q":0.874,"p":-0.342},{"r":"Centro","s":"25-44 anni","q":0.899,"p":-0.342},{"r":"Centro","s":"25-44 anni","q":0.924,"p":-0.333},{"r":"Centro","s":"25-44 anni","q":0.941,"p":-0.352},
{"r":"Centro","s":"65 e più","q":0.055,"p":-0.062},{"r":"Centro","s":"65 e più","q":0.067,"p":-0.052},{"r":"Centro","s":"65 e più","q":0.092,"p":-0.062},{"r":"Centro","s":"65 e più","q":0.118,"p":-0.091},{"r":"Centro","s":"65 e più","q":0.143,"p":-0.12},{"r":"Centro","s":"65 e più","q":0.168,"p":-0.168},{"r":"Centro","s":"65 e più","q":0.193,"p":-0.139},{"r":"Centro","s":"65 e più","q":0.227,"p":-0.149},{"r":"Centro","s":"65 e più","q":0.261,"p":-0.159},{"r":"Centro","s":"65 e più","q":0.294,"p":-0.178},{"r":"Centro","s":"65 e più","q":0.328,"p":-0.188},{"r":"Centro","s":"65 e più","q":0.361,"p":-0.207},{"r":"Centro","s":"65 e più","q":0.395,"p":-0.242},{"r":"Centro","s":"65 e più","q":0.429,"p":-0.275},{"r":"Centro","s":"65 e più","q":0.462,"p":-0.265},{"r":"Centro","s":"65 e più","q":0.487,"p":-0.284},{"r":"Centro","s":"65 e più","q":0.521,"p":-0.294},{"r":"Centro","s":"65 e più","q":0.555,"p":-0.294},{"r":"Centro","s":"65 e più","q":0.588,"p":-0.304},{"r":"Centro","s":"65 e più","q":0.622,"p":-0.304},{"r":"Centro","s":"65 e più","q":0.655,"p":-0.333},{"r":"Centro","s":"65 e più","q":0.689,"p":-0.352},{"r":"Centro","s":"65 e più","q":0.723,"p":-0.362},{"r":"Centro","s":"65 e più","q":0.756,"p":-0.391},{"r":"Centro","s":"65 e più","q":0.79,"p":-0.406},{"r":"Centro","s":"65 e più","q":0.824,"p":-0.429},{"r":"Centro","s":"65 e più","q":0.845,"p":-0.478},{"r":"Centro","s":"65 e più","q":0.857,"p":-0.516},{"r":"Centro","s":"65 e più","q":0.874,"p":-0.458},{"r":"Centro","s":"65 e più","q":0.899,"p":-0.478},{"r":"Centro","s":"65 e più","q":0.924,"p":-0.507},{"r":"Centro","s":"65 e più","q":0.941,"p":-0.487},
{"r":"Mezzogiorno","s":"15-24 anni","q":0.042,"p":-0.174},{"r":"Mezzogiorno","s":"15-24 anni","q":0.067,"p":-0.25},{"r":"Mezzogiorno","s":"15-24 anni","q":0.088,"p":-0.283},{"r":"Mezzogiorno","s":"15-24 anni","q":0.113,"p":-0.287},{"r":"Mezzogiorno","s":"15-24 anni","q":0.138,"p":-0.283},{"r":"Mezzogiorno","s":"15-24 anni","q":0.163,"p":-0.306},{"r":"Mezzogiorno","s":"15-24 anni","q":0.188,"p":-0.34},{"r":"Mezzogiorno","s":"15-24 anni","q":0.222,"p":-0.353},{"r":"Mezzogiorno","s":"15-24 anni","q":0.255,"p":-0.362},{"r":"Mezzogiorno","s":"15-24 anni","q":0.289,"p":-0.377},{"r":"Mezzogiorno","s":"15-24 anni","q":0.322,"p":-0.39},{"r":"Mezzogiorno","s":"15-24 anni","q":0.356,"p":-0.39},{"r":"Mezzogiorno","s":"15-24 anni","q":0.389,"p":-0.4},{"r":"Mezzogiorno","s":"15-24 anni","q":0.423,"p":-0.409},{"r":"Mezzogiorno","s":"15-24 anni","q":0.456,"p":-0.422},{"r":"Mezzogiorno","s":"15-24 anni","q":0.49,"p":-0.433},{"r":"Mezzogiorno","s":"15-24 anni","q":0.523,"p":-0.441},{"r":"Mezzogiorno","s":"15-24 anni","q":0.556,"p":-0.456},{"r":"Mezzogiorno","s":"15-24 anni","q":0.59,"p":-0.465},{"r":"Mezzogiorno","s":"15-24 anni","q":0.623,"p":-0.475},{"r":"Mezzogiorno","s":"15-24 anni","q":0.657,"p":-0.484},{"r":"Mezzogiorno","s":"15-24 anni","q":0.69,"p":-0.503},{"r":"Mezzogiorno","s":"15-24 anni","q":0.715,"p":-0.527},{"r":"Mezzogiorno","s":"15-24 anni","q":0.749,"p":-0.54},{"r":"Mezzogiorno","s":"15-24 anni","q":0.774,"p":-0.535},{"r":"Mezzogiorno","s":"15-24 anni","q":0.795,"p":-0.493},{"r":"Mezzogiorno","s":"15-24 anni","q":0.816,"p":-0.512},{"r":"Mezzogiorno","s":"15-24 anni","q":0.833,"p":-0.55},{"r":"Mezzogiorno","s":"15-24 anni","q":0.849,"p":-0.568},{"r":"Mezzogiorno","s":"15-24 anni","q":0.866,"p":-0.597},{"r":"Mezzogiorno","s":"15-24 anni","q":0.879,"p":-0.625},{"r":"Mezzogiorno","s":"15-24 anni","q":0.887,"p":-0.634},
{"r":"Mezzogiorno","s":"25-44 anni","q":0.042,"p":-0.053},{"r":"Mezzogiorno","s":"25-44 anni","q":0.067,"p":-0.081},{"r":"Mezzogiorno","s":"25-44 anni","q":0.088,"p":-0.109},{"r":"Mezzogiorno","s":"25-44 anni","q":0.121,"p":-0.09},{"r":"Mezzogiorno","s":"25-44 anni","q":0.155,"p":-0.122},{"r":"Mezzogiorno","s":"25-44 anni","q":0.188,"p":-0.141},{"r":"Mezzogiorno","s":"25-44 anni","q":0.222,"p":-0.152},{"r":"Mezzogiorno","s":"25-44 anni","q":0.255,"p":-0.159},{"r":"Mezzogiorno","s":"25-44 anni","q":0.289,"p":-0.159},{"r":"Mezzogiorno","s":"25-44 anni","q":0.331,"p":-0.152},{"r":"Mezzogiorno","s":"25-44 anni","q":0.364,"p":-0.156},{"r":"Mezzogiorno","s":"25-44 anni","q":0.397,"p":-0.159},{"r":"Mezzogiorno","s":"25-44 anni","q":0.431,"p":-0.171},{"r":"Mezzogiorno","s":"25-44 anni","q":0.464,"p":-0.184},{"r":"Mezzogiorno","s":"25-44 anni","q":0.498,"p":-0.193},{"r":"Mezzogiorno","s":"25-44 anni","q":0.531,"p":-0.197},{"r":"Mezzogiorno","s":"25-44 anni","q":0.565,"p":-0.203},{"r":"Mezzogiorno","s":"25-44 anni","q":0.598,"p":-0.212},{"r":"Mezzogiorno","s":"25-44 anni","q":0.632,"p":-0.221},{"r":"Mezzogiorno","s":"25-44 anni","q":0.665,"p":-0.235},{"r":"Mezzogiorno","s":"25-44 anni","q":0.699,"p":-0.25},{"r":"Mezzogiorno","s":"25-44 anni","q":0.724,"p":-0.259},{"r":"Mezzogiorno","s":"25-44 anni","q":0.749,"p":-0.268},{"r":"Mezzogiorno","s":"25-44 anni","q":0.782,"p":-0.278},{"r":"Mezzogiorno","s":"25-44 anni","q":0.816,"p":-0.283},{"r":"Mezzogiorno","s":"25-44 anni","q":0.841,"p":-0.296},{"r":"Mezzogiorno","s":"25-44 anni","q":0.858,"p":-0.325},{"r":"Mezzogiorno","s":"25-44 anni","q":0.874,"p":-0.334},{"r":"Mezzogiorno","s":"25-44 anni","q":0.887,"p":-0.34},
{"r":"Mezzogiorno","s":"65 e più","q":0.042,"p":-0.133},{"r":"Mezzogiorno","s":"65 e più","q":0.067,"p":-0.184},{"r":"Mezzogiorno","s":"65 e più","q":0.096,"p":-0.231},{"r":"Mezzogiorno","s":"65 e più","q":0.121,"p":-0.268},{"r":"Mezzogiorno","s":"65 e più","q":0.138,"p":-0.31},{"r":"Mezzogiorno","s":"65 e più","q":0.155,"p":-0.287},{"r":"Mezzogiorno","s":"65 e più","q":0.18,"p":-0.259},{"r":"Mezzogiorno","s":"65 e più","q":0.205,"p":-0.259},{"r":"Mezzogiorno","s":"65 e più","q":0.238,"p":-0.268},{"r":"Mezzogiorno","s":"65 e più","q":0.272,"p":-0.265},{"r":"Mezzogiorno","s":"65 e più","q":0.305,"p":-0.25},{"r":"Mezzogiorno","s":"65 e più","q":0.339,"p":-0.259},{"r":"Mezzogiorno","s":"65 e più","q":0.364,"p":-0.231},{"r":"Mezzogiorno","s":"65 e più","q":0.397,"p":-0.221},{"r":"Mezzogiorno","s":"65 e più","q":0.431,"p":-0.231},{"r":"Mezzogiorno","s":"65 e più","q":0.464,"p":-0.231},{"r":"Mezzogiorno","s":"65 e più","q":0.498,"p":-0.212},{"r":"Mezzogiorno","s":"65 e più","q":0.531,"p":-0.24},{"r":"Mezzogiorno","s":"65 e più","q":0.565,"p":-0.231},{"r":"Mezzogiorno","s":"65 e più","q":0.586,"p":-0.24},{"r":"Mezzogiorno","s":"65 e più","q":0.603,"p":-0.174},{"r":"Mezzogiorno","s":"65 e più","q":0.628,"p":-0.156},{"r":"Mezzogiorno","s":"65 e più","q":0.657,"p":-0.146},{"r":"Mezzogiorno","s":"65 e più","q":0.69,"p":-0.109},{"r":"Mezzogiorno","s":"65 e più","q":0.715,"p":-0.096},{"r":"Mezzogiorno","s":"65 e più","q":0.749,"p":-0.099},{"r":"Mezzogiorno","s":"65 e più","q":0.774,"p":-0.122},{"r":"Mezzogiorno","s":"65 e più","q":0.799,"p":-0.071},{"r":"Mezzogiorno","s":"65 e più","q":0.833,"p":-0.062},{"r":"Mezzogiorno","s":"65 e più","q":0.849,"p":-0.034},{"r":"Mezzogiorno","s":"65 e più","q":0.866,"p":-0.081},{"r":"Mezzogiorno","s":"65 e più","q":0.879,"p":-0.146},{"r":"Mezzogiorno","s":"65 e più","q":0.887,"p":-0.128}
],
"g3": [
{"r":"Nord","s":"Laurea o superiore","q":0.029,"p":0.107},{"r":"Nord","s":"Laurea o superiore","q":0.063,"p":0.069},{"r":"Nord","s":"Laurea o superiore","q":0.097,"p":0.107},{"r":"Nord","s":"Laurea o superiore","q":0.13,"p":0.134},{"r":"Nord","s":"Laurea o superiore","q":0.172,"p":0.146},{"r":"Nord","s":"Laurea o superiore","q":0.214,"p":0.165},{"r":"Nord","s":"Laurea o superiore","q":0.256,"p":0.196},{"r":"Nord","s":"Laurea o superiore","q":0.298,"p":0.211},{"r":"Nord","s":"Laurea o superiore","q":0.34,"p":0.242},{"r":"Nord","s":"Laurea o superiore","q":0.382,"p":0.261},{"r":"Nord","s":"Laurea o superiore","q":0.424,"p":0.28},{"r":"Nord","s":"Laurea o superiore","q":0.466,"p":0.299},{"r":"Nord","s":"Laurea o superiore","q":0.508,"p":0.318},{"r":"Nord","s":"Laurea o superiore","q":0.55,"p":0.326},{"r":"Nord","s":"Laurea o superiore","q":0.592,"p":0.357},{"r":"Nord","s":"Laurea o superiore","q":0.634,"p":0.387},{"r":"Nord","s":"Laurea o superiore","q":0.676,"p":0.441},{"r":"Nord","s":"Laurea o superiore","q":0.718,"p":0.491},{"r":"Nord","s":"Laurea o superiore","q":0.761,"p":0.529},{"r":"Nord","s":"Laurea o superiore","q":0.794,"p":0.587},{"r":"Nord","s":"Laurea o superiore","q":0.819,"p":0.664},{"r":"Nord","s":"Laurea o superiore","q":0.836,"p":0.74},{"r":"Nord","s":"Laurea o superiore","q":0.853,"p":0.798},{"r":"Nord","s":"Laurea o superiore","q":0.878,"p":0.894},{"r":"Nord","s":"Laurea o superiore","q":0.891,"p":1.047},{"r":"Nord","s":"Laurea o superiore","q":0.903,"p":1.066},{"r":"Nord","s":"Laurea o superiore","q":0.92,"p":1.105},{"r":"Nord","s":"Laurea o superiore","q":0.937,"p":1.22},{"r":"Nord","s":"Laurea o superiore","q":0.95,"p":1.354},{"r":"Nord","s":"Laurea o superiore","q":0.962,"p":1.488},
{"r":"Nord","s":"Diploma di scuola secondaria superiore","q":0.029,"p":0.088},{"r":"Nord","s":"Diploma di scuola secondaria superiore","q":0.055,"p":0.05},{"r":"Nord","s":"Diploma di scuola secondaria superiore","q":0.088,"p":0.05},{"r":"Nord","s":"Diploma di scuola secondaria superiore","q":0.13,"p":0.038},{"r":"Nord","s":"Diploma di scuola secondaria superiore","q":0.172,"p":0.05},{"r":"Nord","s":"Diploma di scuola secondaria superiore","q":0.214,"p":0.058},{"r":"Nord","s":"Diploma di scuola secondaria superiore","q":0.256,"p":0.058},{"r":"Nord","s":"Diploma di scuola secondaria superiore","q":0.298,"p":0.069},{"r":"Nord","s":"Diploma di scuola secondaria superiore","q":0.34,"p":0.077},{"r":"Nord","s":"Diploma di scuola secondaria superiore","q":0.382,"p":0.081},{"r":"Nord","s":"Diploma di scuola secondaria superiore","q":0.424,"p":0.088},{"r":"Nord","s":"Diploma di scuola secondaria superiore","q":0.466,"p":0.096},{"r":"Nord","s":"Diploma di scuola secondaria superiore","q":0.508,"p":0.107},{"r":"Nord","s":"Diploma di scuola secondaria superiore","q":0.55,"p":0.107},{"r":"Nord","s":"Diploma di scuola secondaria superiore","q":0.592,"p":0.107},{"r":"Nord","s":"Diploma di scuola secondaria superiore","q":0.634,"p":0.115},{"r":"Nord","s":"Diploma di scuola secondaria superiore","q":0.676,"p":0.119},{"r":"Nord","s":"Diploma di scuola secondaria superiore","q":0.718,"p":0.134},{"r":"Nord","s":"Diploma di scuola secondaria superiore","q":0.761,"p":0.134},{"r":"Nord","s":"Diploma di scuola secondaria superiore","q":0.803,"p":0.146},{"r":"Nord","s":"Diploma di scuola secondaria superiore","q":0.845,"p":0.165},{"r":"Nord","s":"Diploma di scuola secondaria superiore","q":0.887,"p":0.184},{"r":"Nord","s":"Diploma di scuola secondaria superiore","q":0.912,"p":0.165},{"r":"Nord","s":"Diploma di scuola secondaria superiore","q":0.937,"p":0.157},{"r":"Nord","s":"Diploma di scuola secondaria superiore","q":0.962,"p":0.165},{"r":"Nord","s":"Diploma di scuola secondaria superiore","q":0.971,"p":0.146},
{"r":"Centro","s":"Laurea o superiore","q":0.042,"p":0.057},{"r":"Centro","s":"Laurea o superiore","q":0.063,"p":0.126},{"r":"Centro","s":"Laurea o superiore","q":0.089,"p":0.164},{"r":"Centro","s":"Laurea o superiore","q":0.122,"p":0.164},{"r":"Centro","s":"Laurea o superiore","q":0.156,"p":0.183},{"r":"Centro","s":"Laurea o superiore","q":0.19,"p":0.195},{"r":"Centro","s":"Laurea o superiore","q":0.224,"p":0.202},{"r":"Centro","s":"Laurea o superiore","q":0.257,"p":0.21},{"r":"Centro","s":"Laurea o superiore","q":0.291,"p":0.233},{"r":"Centro","s":"Laurea o superiore","q":0.325,"p":0.26},{"r":"Centro","s":"Laurea o superiore","q":0.359,"p":0.279},{"r":"Centro","s":"Laurea o superiore","q":0.392,"p":0.324},{"r":"Centro","s":"Laurea o superiore","q":0.426,"p":0.355},{"r":"Centro","s":"Laurea o superiore","q":0.46,"p":0.401},{"r":"Centro","s":"Laurea o superiore","q":0.494,"p":0.431},{"r":"Centro","s":"Laurea o superiore","q":0.527,"p":0.45},{"r":"Centro","s":"Laurea o superiore","q":0.561,"p":0.469},{"r":"Centro","s":"Laurea o superiore","q":0.595,"p":0.489},{"r":"Centro","s":"Laurea o superiore","q":0.629,"p":0.5},{"r":"Centro","s":"Laurea o superiore","q":0.662,"p":0.527},{"r":"Centro","s":"Laurea o superiore","q":0.688,"p":0.584},{"r":"Centro","s":"Laurea o superiore","q":0.713,"p":0.603},{"r":"Centro","s":"Laurea o superiore","q":0.738,"p":0.641},{"r":"Centro","s":"Laurea o superiore","q":0.764,"p":0.691},{"r":"Centro","s":"Laurea o superiore","q":0.789,"p":0.756},{"r":"Centro","s":"Laurea o superiore","q":0.806,"p":0.851},{"r":"Centro","s":"Laurea o superiore","q":0.827,"p":0.87},{"r":"Centro","s":"Laurea o superiore","q":0.844,"p":0.935},{"r":"Centro","s":"Laurea o superiore","q":0.861,"p":1.023},{"r":"Centro","s":"Laurea o superiore","q":0.873,"p":1.099},{"r":"Centro","s":"Laurea o superiore","q":0.886,"p":1.156},{"r":"Centro","s":"Laurea o superiore","q":0.895,"p":1.29},{"r":"Centro","s":"Laurea o superiore","q":0.907,"p":1.328},{"r":"Centro","s":"Laurea o superiore","q":0.92,"p":1.29},{"r":"Centro","s":"Laurea o superiore","q":0.932,"p":1.214},{"r":"Centro","s":"Laurea o superiore","q":0.949,"p":1.347},{"r":"Centro","s":"Laurea o superiore","q":0.966,"p":1.481},
{"r":"Centro","s":"Diploma di scuola secondaria superiore","q":0.042,"p":0.05},{"r":"Centro","s":"Diploma di scuola secondaria superiore","q":0.08,"p":0.069},{"r":"Centro","s":"Diploma di scuola secondaria superiore","q":0.114,"p":0.038},{"r":"Centro","s":"Diploma di scuola secondaria superiore","q":0.148,"p":0.038},{"r":"Centro","s":"Diploma di scuola secondaria superiore","q":0.181,"p":0.05},{"r":"Centro","s":"Diploma di scuola secondaria superiore","q":0.224,"p":0.05},{"r":"Centro","s":"Diploma di scuola secondaria superiore","q":0.266,"p":0.057},{"r":"Centro","s":"Diploma di scuola secondaria superiore","q":0.308,"p":0.069},{"r":"Centro","s":"Diploma di scuola secondaria superiore","q":0.35,"p":0.08},{"r":"Centro","s":"Diploma di scuola secondaria superiore","q":0.392,"p":0.088},{"r":"Centro","s":"Diploma di scuola secondaria superiore","q":0.435,"p":0.088},{"r":"Centro","s":"Diploma di scuola secondaria superiore","q":0.477,"p":0.08},{"r":"Centro","s":"Diploma di scuola secondaria superiore","q":0.519,"p":0.095},{"r":"Centro","s":"Diploma di scuola secondaria superiore","q":0.561,"p":0.118},{"r":"Centro","s":"Diploma di scuola secondaria superiore","q":0.603,"p":0.126},{"r":"Centro","s":"Diploma di scuola secondaria superiore","q":0.646,"p":0.126},{"r":"Centro","s":"Diploma di scuola secondaria superiore","q":0.688,"p":0.145},{"r":"Centro","s":"Diploma di scuola secondaria superiore","q":0.73,"p":0.164},{"r":"Centro","s":"Diploma di scuola secondaria superiore","q":0.772,"p":0.172},{"r":"Centro","s":"Diploma di scuola secondaria superiore","q":0.814,"p":0.183},{"r":"Centro","s":"Diploma di scuola secondaria superiore","q":0.857,"p":0.21},{"r":"Centro","s":"Diploma di scuola secondaria superiore","q":0.899,"p":0.24},{"r":"Centro","s":"Diploma di scuola secondaria superiore","q":0.916,"p":0.26},{"r":"Centro","s":"Diploma di scuola secondaria superiore","q":0.932,"p":0.202},{"r":"Centro","s":"Diploma di scuola secondaria superiore","q":0.949,"p":0.183},{"r":"Centro","s":"Diploma di scuola secondaria superiore","q":0.966,"p":0.221},
{"r":"Mezzogiorno","s":"Laurea o superiore","q":0.038,"p":0.06},{"r":"Mezzogiorno","s":"Laurea o superiore","q":0.067,"p":0.104},{"r":"Mezzogiorno","s":"Laurea o superiore","q":0.101,"p":0.16},{"r":"Mezzogiorno","s":"Laurea o superiore","q":0.134,"p":0.198},{"r":"Mezzogiorno","s":"Laurea o superiore","q":0.16,"p":0.235},{"r":"Mezzogiorno","s":"Laurea o superiore","q":0.193,"p":0.254},{"r":"Mezzogiorno","s":"Laurea o superiore","q":0.218,"p":0.272},{"r":"Mezzogiorno","s":"Laurea o superiore","q":0.252,"p":0.299},{"r":"Mezzogiorno","s":"Laurea o superiore","q":0.286,"p":0.321},{"r":"Mezzogiorno","s":"Laurea o superiore","q":0.319,"p":0.336},{"r":"Mezzogiorno","s":"Laurea o superiore","q":0.353,"p":0.347},{"r":"Mezzogiorno","s":"Laurea o superiore","q":0.387,"p":0.358},{"r":"Mezzogiorno","s":"Laurea o superiore","q":0.42,"p":0.366},{"r":"Mezzogiorno","s":"Laurea o superiore","q":0.454,"p":0.384},{"r":"Mezzogiorno","s":"Laurea o superiore","q":0.487,"p":0.403},{"r":"Mezzogiorno","s":"Laurea o superiore","q":0.521,"p":0.433},{"r":"Mezzogiorno","s":"Laurea o superiore","q":0.555,"p":0.47},{"r":"Mezzogiorno","s":"Laurea o superiore","q":0.588,"p":0.496},{"r":"Mezzogiorno","s":"Laurea o superiore","q":0.622,"p":0.515},{"r":"Mezzogiorno","s":"Laurea o superiore","q":0.655,"p":0.534},{"r":"Mezzogiorno","s":"Laurea o superiore","q":0.689,"p":0.552},{"r":"Mezzogiorno","s":"Laurea o superiore","q":0.723,"p":0.59},{"r":"Mezzogiorno","s":"Laurea o superiore","q":0.756,"p":0.646},{"r":"Mezzogiorno","s":"Laurea o superiore","q":0.773,"p":0.683},{"r":"Mezzogiorno","s":"Laurea o superiore","q":0.798,"p":0.757},{"r":"Mezzogiorno","s":"Laurea o superiore","q":0.824,"p":0.832},{"r":"Mezzogiorno","s":"Laurea o superiore","q":0.849,"p":0.925},{"r":"Mezzogiorno","s":"Laurea o superiore","q":0.866,"p":1.019},{"r":"Mezzogiorno","s":"Laurea o superiore","q":0.882,"p":1.112},{"r":"Mezzogiorno","s":"Laurea o superiore","q":0.899,"p":1.317},{"r":"Mezzogiorno","s":"Laurea o superiore","q":0.916,"p":1.429},{"r":"Mezzogiorno","s":"Laurea o superiore","q":0.92,"p":1.485},
{"r":"Mezzogiorno","s":"Diploma di scuola secondaria superiore","q":0.038,"p":0.037},{"r":"Mezzogiorno","s":"Diploma di scuola secondaria superiore","q":0.067,"p":0.086},{"r":"Mezzogiorno","s":"Diploma di scuola secondaria superiore","q":0.092,"p":0.142},{"r":"Mezzogiorno","s":"Diploma di scuola secondaria superiore","q":0.126,"p":0.16},{"r":"Mezzogiorno","s":"Diploma di scuola secondaria superiore","q":0.16,"p":0.149},{"r":"Mezzogiorno","s":"Diploma di scuola secondaria superiore","q":0.202,"p":0.134},{"r":"Mezzogiorno","s":"Diploma di scuola secondaria superiore","q":0.244,"p":0.123},{"r":"Mezzogiorno","s":"Diploma di scuola secondaria superiore","q":0.286,"p":0.123},{"r":"Mezzogiorno","s":"Diploma di scuola secondaria superiore","q":0.328,"p":0.142},{"r":"Mezzogiorno","s":"Diploma di scuola secondaria superiore","q":0.37,"p":0.142},{"r":"Mezzogiorno","s":"Diploma di scuola secondaria superiore","q":0.412,"p":0.149},{"r":"Mezzogiorno","s":"Diploma di scuola secondaria superiore","q":0.454,"p":0.149},{"r":"Mezzogiorno","s":"Diploma di scuola secondaria superiore","q":0.496,"p":0.16},{"r":"Mezzogiorno","s":"Diploma di scuola secondaria superiore","q":0.538,"p":0.172},{"r":"Mezzogiorno","s":"Diploma di scuola secondaria superiore","q":0.58,"p":0.179},{"r":"Mezzogiorno","s":"Diploma di scuola secondaria superiore","q":0.622,"p":0.179},{"r":"Mezzogiorno","s":"Diploma di scuola secondaria superiore","q":0.664,"p":0.187},{"r":"Mezzogiorno","s":"Diploma di scuola secondaria superiore","q":0.706,"p":0.187},{"r":"Mezzogiorno","s":"Diploma di scuola secondaria superiore","q":0.748,"p":0.198},{"r":"Mezzogiorno","s":"Diploma di scuola secondaria superiore","q":0.79,"p":0.209},{"r":"Mezzogiorno","s":"Diploma di scuola secondaria superiore","q":0.832,"p":0.235},{"r":"Mezzogiorno","s":"Diploma di scuola secondaria superiore","q":0.866,"p":0.224},{"r":"Mezzogiorno","s":"Diploma di scuola secondaria superiore","q":0.899,"p":0.254},{"r":"Mezzogiorno","s":"Diploma di scuola secondaria superiore","q":0.924,"p":0.235},{"r":"Mezzogiorno","s":"Diploma di scuola secondaria superiore","q":0.945,"p":0.235},{"r":"Mezzogiorno","s":"Diploma di scuola secondaria superiore","q":0.958,"p":0.235}
]
},
"columns": 6,
"spacing": {"row": 88, "column": 0},
"bounds": "flush",
"align": "each",
"concat": [
{"width": 174, "height": 395, "layer": [
 {"data": {"name": "g1"}, "transform": [{"filter": "datum.r == 'Mezzogiorno'"}], "mark": {"type": "line", "strokeWidth": 6, "strokeCap": "round", "strokeJoin": "round"},
  "encoding": {
   "x": {"field": "p", "type": "quantitative", "scale": {"domain": [-0.2, 0.6], "reverse": true, "nice": false, "zero": false}, "axis": {"orient": "bottom", "values": [0.6, 0.4, 0.2, 0, -0.2], "format": "~g", "labelAngle": 270, "labelAlign": "right", "labelBaseline": "middle", "labelPadding": 12, "tickSize": 5, "title": null}},
   "y": {"field": "q", "type": "quantitative", "scale": {"domain": [0, 1], "nice": false, "zero": false}, "axis": {"orient": "right", "values": [0, 0.1, 0.2, 0.3, 0.4, 0.5, 0.6, 0.7, 0.8, 0.9, 1], "format": "~g", "labelAngle": 270, "labelAlign": "center", "labelBaseline": "top", "labelPadding": 14, "domain": false, "ticks": false, "tickSize": 0, "title": null}},
   "color": {"field": "s", "type": "nominal", "scale": {"domain": ["Uomini senza figli", "Uomini con figli", "Donne senza figli"], "range": ["#538135", "#ffc000", "#8c93c7"]}, "legend": null},
   "order": {"field": "q", "type": "quantitative"}}},
 {"data": {"values": [{}]}, "mark": {"type": "rule", "color": "#000000", "strokeWidth": 1.2}, "encoding": {"x": {"datum": 0, "type": "quantitative"}}},
 {"data": {"values": [{"label": "Mezzogiorno"}]}, "mark": {"type": "text", "angle": 270, "align": "left", "baseline": "top", "dx": 10, "dy": 2, "fontSize": 18.5}, "encoding": {"x": {"datum": 0.6, "type": "quantitative"}, "y": {"datum": 0, "type": "quantitative"}, "text": {"field": "label"}}}
]},
{"width": 161, "height": 395, "data": {"values": [{"i": 0, "s": "Uomini senza figli"}, {"i": 1, "s": "Uomini con figli"}, {"i": 2, "s": "Donne senza figli"}, {"i": 3, "s": "<riferimento> Donne con figli"}]},
 "encoding": {"y": {"field": "i", "type": "ordinal", "scale": {"type": "point", "range": [1247, 326], "padding": 0}, "axis": null}},
 "layer": [
  {"transform": [{"filter": "datum.i < 3"}], "mark": {"type": "point", "shape": "M0,-1L0,1", "size": 676, "filled": false, "strokeWidth": 6, "strokeCap": "round", "opacity": 1, "xOffset": 11.5},
   "encoding": {"color": {"field": "s", "type": "nominal", "scale": {"domain": ["Uomini senza figli", "Uomini con figli", "Donne senza figli"], "range": ["#538135", "#ffc000", "#8c93c7"]}, "legend": null}}},
  {"mark": {"type": "text", "angle": 270, "align": "left", "baseline": "middle", "dx": 20, "xOffset": 11.5, "fontSize": 18.5}, "encoding": {"text": {"field": "s"}}}
 ]},
{"width": 174, "height": 395, "layer": [
 {"data": {"name": "g2"}, "transform": [{"filter": "datum.r == 'Mezzogiorno'"}], "mark": {"type": "line", "strokeWidth": 6, "strokeCap": "round", "strokeJoin": "round"},
  "encoding": {
   "x": {"field": "p", "type": "quantitative", "scale": {"domain": [-1, 0], "reverse": true, "nice": false, "zero": false}, "axis": {"orient": "bottom", "values": [0, -0.5, -1], "format": "~g", "labelAngle": 270, "labelAlign": "right", "labelBaseline": "middle", "labelPadding": 12, "tickSize": 5, "title": null}},
   "y": {"field": "q", "type": "quantitative", "scale": {"domain": [0, 1], "nice": false, "zero": false}, "axis": {"orient": "right", "values": [0, 0.1, 0.2, 0.3, 0.4, 0.5, 0.6, 0.7, 0.8, 0.9, 1], "format": "~g", "labelAngle": 270, "labelAlign": "center", "labelBaseline": "top", "labelPadding": 14, "domain": false, "ticks": false, "tickSize": 0, "title": null}},
   "color": {"field": "s", "type": "nominal", "scale": {"domain": ["15-24 anni", "25-44 anni", "65 e più"], "range": ["#538135", "#ffc000", "#8c93c7"]}, "legend": null},
   "order": {"field": "q", "type": "quantitative"}}},
 {"data": {"values": [{}]}, "mark": {"type": "rule", "color": "#000000", "strokeWidth": 1.2}, "encoding": {"x": {"datum": 0, "type": "quantitative"}}},
 {"data": {"values": [{"label": "Mezzogiorno"}]}, "mark": {"type": "text", "angle": 270, "align": "left", "baseline": "alphabetic", "dx": 11, "dy": -8, "fontSize": 18.5}, "encoding": {"x": {"datum": -1, "type": "quantitative"}, "y": {"datum": 0, "type": "quantitative"}, "text": {"field": "label"}}}
]},
{"width": 176, "height": 395, "data": {"values": [{"i": 0, "s": "15-24 anni"}, {"i": 1, "s": "25-44 anni"}, {"i": 2, "s": "65 e più"}, {"i": 3, "s": "<riferimento> 45-64"}]},
 "encoding": {"y": {"field": "i", "type": "ordinal", "scale": {"type": "point", "range": [1225, 285], "padding": 0}, "axis": null}},
 "layer": [
  {"transform": [{"filter": "datum.i < 3"}], "mark": {"type": "point", "shape": "M0,-1L0,1", "size": 676, "filled": false, "strokeWidth": 6, "strokeCap": "round", "opacity": 1, "xOffset": 19},
   "encoding": {"color": {"field": "s", "type": "nominal", "scale": {"domain": ["15-24 anni", "25-44 anni", "65 e più"], "range": ["#538135", "#ffc000", "#8c93c7"]}, "legend": null}}},
  {"mark": {"type": "text", "angle": 270, "align": "left", "baseline": "middle", "dx": 20, "xOffset": 19, "fontSize": 18.5}, "encoding": {"text": {"field": "s"}}}
 ]},
{"width": 174, "height": 395, "layer": [
 {"data": {"name": "g3"}, "transform": [{"filter": "datum.r == 'Mezzogiorno'"}], "mark": {"type": "line", "strokeWidth": 6, "strokeCap": "round", "strokeJoin": "round"},
  "encoding": {
   "x": {"field": "p", "type": "quantitative", "scale": {"domain": [-0.5, 1.5], "reverse": true, "nice": false, "zero": false}, "axis": {"orient": "bottom", "values": [1.5, 1, 0.5, 0, -0.5], "format": "~g", "labelAngle": 270, "labelAlign": "right", "labelBaseline": "middle", "labelPadding": 12, "tickSize": 5, "title": null}},
   "y": {"field": "q", "type": "quantitative", "scale": {"domain": [0, 1], "nice": false, "zero": false}, "axis": {"orient": "right", "values": [0, 0.1, 0.2, 0.3, 0.4, 0.5, 0.6, 0.7, 0.8, 0.9, 1], "format": "~g", "labelAngle": 270, "labelAlign": "center", "labelBaseline": "top", "labelPadding": 14, "domain": false, "ticks": false, "tickSize": 0, "title": null}},
   "color": {"field": "s", "type": "nominal", "scale": {"domain": ["Laurea o superiore", "Diploma di scuola secondaria superiore"], "range": ["#538135", "#ffc000"]}, "legend": null},
   "order": {"field": "q", "type": "quantitative"}}},
 {"data": {"values": [{}]}, "mark": {"type": "rule", "color": "#000000", "strokeWidth": 1.2}, "encoding": {"x": {"datum": 0, "type": "quantitative"}}},
 {"data": {"values": [{"label": "Mezzogiorno"}]}, "mark": {"type": "text", "angle": 270, "align": "left", "baseline": "top", "dx": 11, "dy": 1, "fontSize": 18.5}, "encoding": {"x": {"datum": 1.5, "type": "quantitative"}, "y": {"datum": 0, "type": "quantitative"}, "text": {"field": "label"}}}
]},
{"width": 40, "height": 395, "data": {"values": [{"i": 0, "s": "Laurea o superiore"}, {"i": 1, "s": "Diploma di scuola secondaria superiore"}, {"i": 2, "s": "<riferimento> Diploma di scuola media o elementare o nessuno"}]},
 "encoding": {"y": {"field": "i", "type": "ordinal", "scale": {"type": "point", "range": [1300, 525], "padding": 0}, "axis": null}},
 "layer": [
  {"transform": [{"filter": "datum.i < 2"}], "mark": {"type": "point", "shape": "M0,-1L0,1", "size": 676, "filled": false, "strokeWidth": 6, "strokeCap": "round", "opacity": 1, "xOffset": 65},
   "encoding": {"color": {"field": "s", "type": "nominal", "scale": {"domain": ["Laurea o superiore", "Diploma di scuola secondaria superiore"], "range": ["#538135", "#ffc000"]}, "legend": null}}},
  {"mark": {"type": "text", "angle": 270, "align": "left", "baseline": "middle", "dx": 20, "xOffset": 65, "fontSize": 18.5}, "encoding": {"text": {"field": "s"}}}
 ]},

{"width": 174, "height": 395, "layer": [
 {"data": {"name": "g1"}, "transform": [{"filter": "datum.r == 'Centro'"}], "mark": {"type": "line", "strokeWidth": 6, "strokeCap": "round", "strokeJoin": "round"},
  "encoding": {
   "x": {"field": "p", "type": "quantitative", "scale": {"domain": [-0.2, 0.6], "reverse": true, "nice": false, "zero": false}, "axis": {"orient": "bottom", "values": [0.6, 0.4, 0.2, 0, -0.2], "format": "~g", "labelAngle": 270, "labelAlign": "right", "labelBaseline": "middle", "labelPadding": 12, "tickSize": 5, "title": null}},
   "y": {"field": "q", "type": "quantitative", "scale": {"domain": [0, 1], "nice": false, "zero": false}, "axis": {"orient": "right", "values": [0, 0.1, 0.2, 0.3, 0.4, 0.5, 0.6, 0.7, 0.8, 0.9, 1], "format": "~g", "labelAngle": 270, "labelAlign": "center", "labelBaseline": "top", "labelPadding": 14, "domain": false, "ticks": false, "tickSize": 0, "title": "Quantili di reddito da lavoro", "titleAngle": 270, "titleAlign": "center", "titleBaseline": "top", "titleX": 48, "titleY": 238}},
   "color": {"field": "s", "type": "nominal", "scale": {"domain": ["Uomini senza figli", "Uomini con figli", "Donne senza figli"], "range": ["#538135", "#ffc000", "#8c93c7"]}, "legend": null},
   "order": {"field": "q", "type": "quantitative"}}},
 {"data": {"values": [{}]}, "mark": {"type": "rule", "color": "#000000", "strokeWidth": 1.2}, "encoding": {"x": {"datum": 0, "type": "quantitative"}}},
 {"data": {"values": [{"label": "Centro"}]}, "mark": {"type": "text", "angle": 270, "align": "left", "baseline": "top", "dx": 13, "dy": 2, "fontSize": 18.5}, "encoding": {"x": {"datum": 0.6, "type": "quantitative"}, "y": {"datum": 0, "type": "quantitative"}, "text": {"field": "label"}}}
]},
{"width": 161, "height": 395, "data": {"values": []}, "mark": "point"},
{"width": 174, "height": 395, "layer": [
 {"data": {"name": "g2"}, "transform": [{"filter": "datum.r == 'Centro'"}], "mark": {"type": "line", "strokeWidth": 6, "strokeCap": "round", "strokeJoin": "round"},
  "encoding": {
   "x": {"field": "p", "type": "quantitative", "scale": {"domain": [-1, 0], "reverse": true, "nice": false, "zero": false}, "axis": {"orient": "bottom", "values": [0, -0.5, -1], "format": "~g", "labelAngle": 270, "labelAlign": "right", "labelBaseline": "middle", "labelPadding": 12, "tickSize": 5, "title": null}},
   "y": {"field": "q", "type": "quantitative", "scale": {"domain": [0, 1], "nice": false, "zero": false}, "axis": {"orient": "right", "values": [0, 0.1, 0.2, 0.3, 0.4, 0.5, 0.6, 0.7, 0.8, 0.9, 1], "format": "~g", "labelAngle": 270, "labelAlign": "center", "labelBaseline": "top", "labelPadding": 14, "domain": false, "ticks": false, "tickSize": 0, "title": "Quantili di reddito da lavoro", "titleAngle": 270, "titleAlign": "center", "titleBaseline": "top", "titleX": 49, "titleY": 238}},
   "color": {"field": "s", "type": "nominal", "scale": {"domain": ["15-24 anni", "25-44 anni", "65 e più"], "range": ["#538135", "#ffc000", "#8c93c7"]}, "legend": null},
   "order": {"field": "q", "type": "quantitative"}}},
 {"data": {"values": [{}]}, "mark": {"type": "rule", "color": "#000000", "strokeWidth": 1.2}, "encoding": {"x": {"datum": 0, "type": "quantitative"}}},
 {"data": {"values": [{"label": "Centro"}]}, "mark": {"type": "text", "angle": 270, "align": "left", "baseline": "alphabetic", "dx": 14, "dy": -8, "fontSize": 18.5}, "encoding": {"x": {"datum": -1, "type": "quantitative"}, "y": {"datum": 0, "type": "quantitative"}, "text": {"field": "label"}}}
]},
{"width": 176, "height": 395, "data": {"values": []}, "mark": "point"},
{"width": 174, "height": 395, "layer": [
 {"data": {"name": "g3"}, "transform": [{"filter": "datum.r == 'Centro'"}], "mark": {"type": "line", "strokeWidth": 6, "strokeCap": "round", "strokeJoin": "round"},
  "encoding": {
   "x": {"field": "p", "type": "quantitative", "scale": {"domain": [-0.5, 1.5], "reverse": true, "nice": false, "zero": false}, "axis": {"orient": "bottom", "values": [1.5, 1, 0.5, 0, -0.5], "format": "~g", "labelAngle": 270, "labelAlign": "right", "labelBaseline": "middle", "labelPadding": 12, "tickSize": 5, "title": null}},
   "y": {"field": "q", "type": "quantitative", "scale": {"domain": [0, 1], "nice": false, "zero": false}, "axis": {"orient": "right", "values": [0, 0.1, 0.2, 0.3, 0.4, 0.5, 0.6, 0.7, 0.8, 0.9, 1], "format": "~g", "labelAngle": 270, "labelAlign": "center", "labelBaseline": "top", "labelPadding": 14, "domain": false, "ticks": false, "tickSize": 0, "title": "Quantili di reddito da lavoro", "titleAngle": 270, "titleAlign": "center", "titleBaseline": "top", "titleX": 42, "titleY": 238}},
   "color": {"field": "s", "type": "nominal", "scale": {"domain": ["Laurea o superiore", "Diploma di scuola secondaria superiore"], "range": ["#538135", "#ffc000"]}, "legend": null},
   "order": {"field": "q", "type": "quantitative"}}},
 {"data": {"values": [{}]}, "mark": {"type": "rule", "color": "#000000", "strokeWidth": 1.2}, "encoding": {"x": {"datum": 0, "type": "quantitative"}}},
 {"data": {"values": [{"label": "Centro"}]}, "mark": {"type": "text", "angle": 270, "align": "left", "baseline": "top", "dx": 14, "dy": 1, "fontSize": 18.5}, "encoding": {"x": {"datum": 1.5, "type": "quantitative"}, "y": {"datum": 0, "type": "quantitative"}, "text": {"field": "label"}}}
]},
{"width": 40, "height": 395, "data": {"values": []}, "mark": "point"},

{"width": 174, "height": 395, "title": {"text": "Genere e presenza di figli minori in famiglia", "orient": "left", "anchor": "start", "frame": "bounds", "offset": 23, "dx": 49}, "layer": [
 {"data": {"name": "g1"}, "transform": [{"filter": "datum.r == 'Nord'"}], "mark": {"type": "line", "strokeWidth": 6, "strokeCap": "round", "strokeJoin": "round"},
  "encoding": {
   "x": {"field": "p", "type": "quantitative", "scale": {"domain": [-0.2, 0.6], "reverse": true, "nice": false, "zero": false}, "axis": {"orient": "bottom", "values": [0.6, 0.4, 0.2, 0, -0.2], "format": "~g", "labelAngle": 270, "labelAlign": "right", "labelBaseline": "middle", "labelPadding": 12, "tickSize": 5, "title": "Parametri", "titleAngle": 270, "titleAlign": "right", "titleBaseline": "middle", "titleX": 64, "titleY": 53}},
   "y": {"field": "q", "type": "quantitative", "scale": {"domain": [0, 1], "nice": false, "zero": false}, "axis": {"orient": "right", "values": [0, 0.1, 0.2, 0.3, 0.4, 0.5, 0.6, 0.7, 0.8, 0.9, 1], "format": "~g", "labelAngle": 270, "labelAlign": "center", "labelBaseline": "top", "labelPadding": 14, "domain": false, "ticks": false, "tickSize": 0, "title": null}},
   "color": {"field": "s", "type": "nominal", "scale": {"domain": ["Uomini senza figli", "Uomini con figli", "Donne senza figli"], "range": ["#538135", "#ffc000", "#8c93c7"]}, "legend": null},
   "order": {"field": "q", "type": "quantitative"}}},
 {"data": {"values": [{}]}, "mark": {"type": "rule", "color": "#000000", "strokeWidth": 1.2}, "encoding": {"x": {"datum": 0, "type": "quantitative"}}},
 {"data": {"values": [{"label": "Nord"}]}, "mark": {"type": "text", "angle": 270, "align": "left", "baseline": "top", "dx": 10, "dy": 2, "fontSize": 18.5}, "encoding": {"x": {"datum": 0.6, "type": "quantitative"}, "y": {"datum": 0, "type": "quantitative"}, "text": {"field": "label"}}}
]},
{"width": 161, "height": 395, "data": {"values": []}, "mark": "point"},
{"width": 174, "height": 395, "title": {"text": "Età", "orient": "left", "anchor": "start", "frame": "bounds", "offset": 18, "dx": 49}, "layer": [
 {"data": {"name": "g2"}, "transform": [{"filter": "datum.r == 'Nord'"}], "mark": {"type": "line", "strokeWidth": 6, "strokeCap": "round", "strokeJoin": "round"},
  "encoding": {
   "x": {"field": "p", "type": "quantitative", "scale": {"domain": [-1, 0], "reverse": true, "nice": false, "zero": false}, "axis": {"orient": "bottom", "values": [0, -0.5, -1], "format": "~g", "labelAngle": 270, "labelAlign": "right", "labelBaseline": "middle", "labelPadding": 12, "tickSize": 5, "title": "Parametri", "titleAngle": 270, "titleAlign": "right", "titleBaseline": "middle", "titleX": 64, "titleY": 53}},
   "y": {"field": "q", "type": "quantitative", "scale": {"domain": [0, 1], "nice": false, "zero": false}, "axis": {"orient": "right", "values": [0, 0.1, 0.2, 0.3, 0.4, 0.5, 0.6, 0.7, 0.8, 0.9, 1], "format": "~g", "labelAngle": 270, "labelAlign": "center", "labelBaseline": "top", "labelPadding": 14, "domain": false, "ticks": false, "tickSize": 0, "title": null}},
   "color": {"field": "s", "type": "nominal", "scale": {"domain": ["15-24 anni", "25-44 anni", "65 e più"], "range": ["#538135", "#ffc000", "#8c93c7"]}, "legend": null},
   "order": {"field": "q", "type": "quantitative"}}},
 {"data": {"values": [{}]}, "mark": {"type": "rule", "color": "#000000", "strokeWidth": 1.2}, "encoding": {"x": {"datum": 0, "type": "quantitative"}}},
 {"data": {"values": [{"label": "Nord"}]}, "mark": {"type": "text", "angle": 270, "align": "left", "baseline": "alphabetic", "dx": 11, "dy": -8, "fontSize": 18.5}, "encoding": {"x": {"datum": -1, "type": "quantitative"}, "y": {"datum": 0, "type": "quantitative"}, "text": {"field": "label"}}}
]},
{"width": 176, "height": 395, "data": {"values": []}, "mark": "point"},
{"width": 174, "height": 395, "title": {"text": "Titolo di studio", "orient": "left", "anchor": "start", "frame": "bounds", "offset": 18, "dx": 49}, "layer": [
 {"data": {"name": "g3"}, "transform": [{"filter": "datum.r == 'Nord'"}], "mark": {"type": "line", "strokeWidth": 6, "strokeCap": "round", "strokeJoin": "round"},
  "encoding": {
   "x": {"field": "p", "type": "quantitative", "scale": {"domain": [-0.5, 1.5], "reverse": true, "nice": false, "zero": false}, "axis": {"orient": "bottom", "values": [1.5, 1, 0.5, 0, -0.5], "format": "~g", "labelAngle": 270, "labelAlign": "right", "labelBaseline": "middle", "labelPadding": 12, "tickSize": 5, "title": "Parametri", "titleAngle": 270, "titleAlign": "right", "titleBaseline": "middle", "titleX": 64, "titleY": 53}},
   "y": {"field": "q", "type": "quantitative", "scale": {"domain": [0, 1], "nice": false, "zero": false}, "axis": {"orient": "right", "values": [0, 0.1, 0.2, 0.3, 0.4, 0.5, 0.6, 0.7, 0.8, 0.9, 1], "format": "~g", "labelAngle": 270, "labelAlign": "center", "labelBaseline": "top", "labelPadding": 14, "domain": false, "ticks": false, "tickSize": 0, "title": null}},
   "color": {"field": "s", "type": "nominal", "scale": {"domain": ["Laurea o superiore", "Diploma di scuola secondaria superiore"], "range": ["#538135", "#ffc000"]}, "legend": null},
   "order": {"field": "q", "type": "quantitative"}}},
 {"data": {"values": [{}]}, "mark": {"type": "rule", "color": "#000000", "strokeWidth": 1.2}, "encoding": {"x": {"datum": 0, "type": "quantitative"}}},
 {"data": {"values": [{"label": "Nord"}]}, "mark": {"type": "text", "angle": 270, "align": "left", "baseline": "top", "dx": 11, "dy": 1, "fontSize": 18.5}, "encoding": {"x": {"datum": 1.5, "type": "quantitative"}, "y": {"datum": 0, "type": "quantitative"}, "text": {"field": "label"}}}
]},
{"width": 40, "height": 395, "data": {"values": []}, "mark": "point"}
]
}
